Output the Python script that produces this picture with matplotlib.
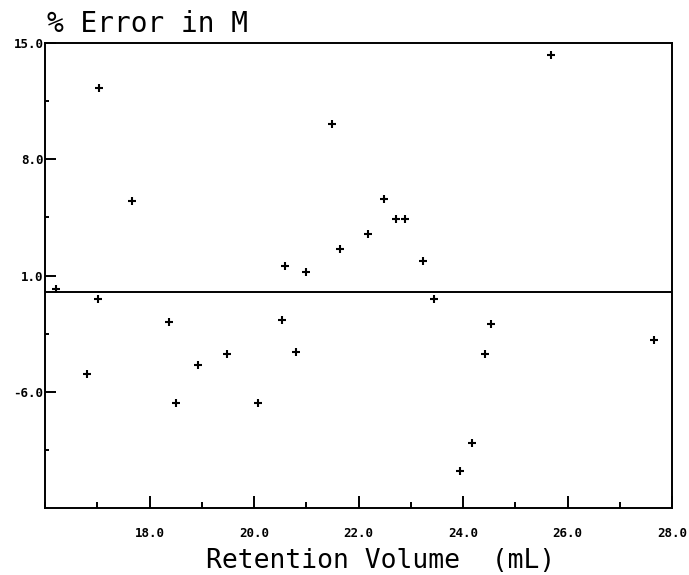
import matplotlib
matplotlib.use("Agg")
from matplotlib import pyplot as plt
from matplotlib.ticker import MultipleLocator, FixedLocator
import numpy as np

# retention volume (mL) and % error in M
ret_vol = [16.22, 16.81, 17.03, 17.02, 17.66, 18.37, 18.50, 18.93, 19.49, 20.08,
           20.53, 20.60, 20.81, 21.00, 21.50, 21.65, 22.19, 22.48, 22.71, 22.88,
           23.23, 23.45, 24.54, 24.41, 24.17, 23.94, 25.68, 27.66]
pct_err = [0.2, -4.9, 12.3, -0.4, 5.5, -1.8, -6.7, -4.4, -3.7, -6.7,
           -1.7, 1.6, -3.6, 1.2, 10.1, 2.6, 3.5, 5.6, 4.4, 4.4,
           1.9, -0.4, -1.9, -3.7, -9.1, -10.8, 14.3, -2.9]

xticks = [18.0, 20.0, 22.0, 24.0, 26.0, 28.0]
yticks = [15.0, 8.0, 1.0, -6.0]

fig = plt.figure(figsize=(6.89, 5.75), dpi=100)
ax = fig.add_axes([0.0653, 0.1165, 0.9102, 0.8085])

ax.axhline(0, color='black', lw=1.4)
ax.plot(ret_vol, pct_err, '+', color='black', ms=6, mew=1.5)

ax.set_xlim(16, 28)
ax.set_ylim(-13, 15)
ax.xaxis.set_major_locator(FixedLocator(xticks))
ax.xaxis.set_minor_locator(MultipleLocator(1))
ax.yaxis.set_major_locator(FixedLocator(yticks))
ax.yaxis.set_minor_locator(FixedLocator([11.5, 4.5, -2.5, -9.5]))
ax.set_xticklabels(['%.1f' % v for v in xticks])
ax.set_yticklabels(['%.1f' % v for v in yticks])

ax.tick_params(which='both', direction='in', top=False, right=False, width=1.4)
ax.tick_params(axis='x', which='major', length=9, pad=14)
ax.tick_params(axis='x', which='minor', length=4)
ax.tick_params(axis='y', which='major', length=8, pad=1)
ax.tick_params(axis='y', which='minor', length=3)
for lab in ax.get_xticklabels() + ax.get_yticklabels():
    lab.set_fontfamily('DejaVu Sans Mono')
    lab.set_fontweight('bold')
    lab.set_fontsize(9)
for sp in ax.spines.values():
    sp.set_linewidth(1.4)

fig.text(0.068, 0.958, '% Error in M', fontsize=20, family='DejaVu Sans Mono',
         ha='left', va='center')
fig.text(0.552, 0.025, 'Retention Volume  (mL)', fontsize=19, family='DejaVu Sans Mono',
         ha='center', va='center')

fig.savefig('out.png', dpi=100)
